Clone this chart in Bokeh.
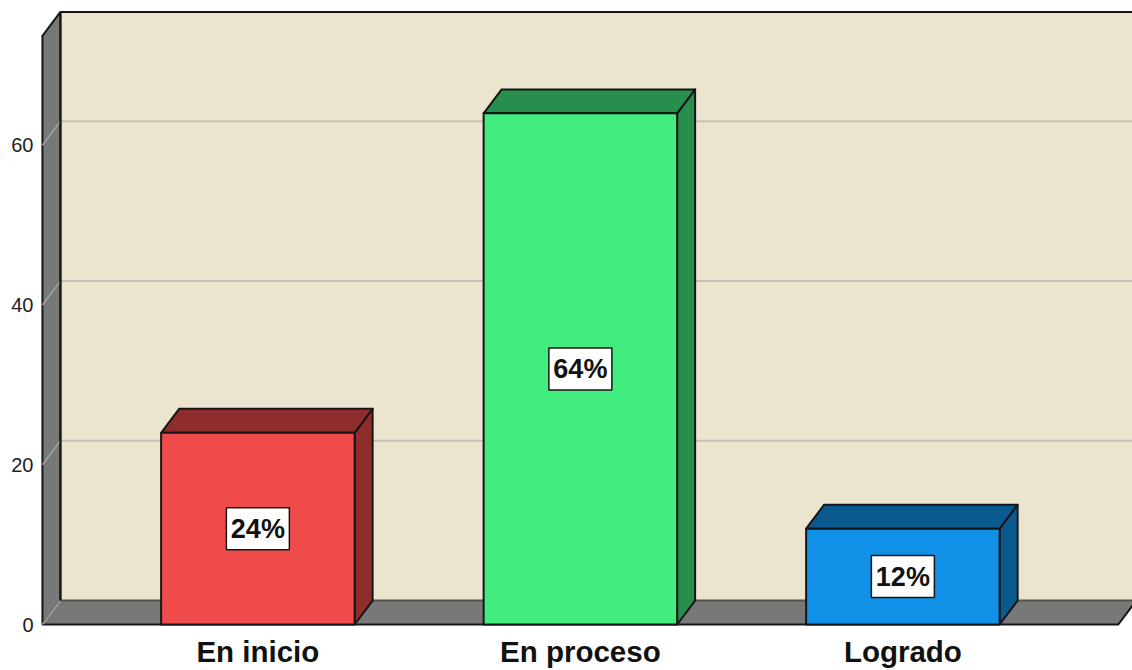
from bokeh.plotting import figure
from bokeh.models import ColumnDataSource, Range1d, FixedTicker
from bokeh.core.properties import value
from bokeh.embed import file_html
from bokeh.resources import INLINE

categories = ["En inicio", "En proceso", "Logrado"]
values = [24, 64, 12]
labels = ["24%", "64%", "12%"]
y_ticks = [0, 20, 40, 60]
face_colors = ["#EF4B4B", "#43EC7F", "#1190E8"]
dark_colors = ["#8F2D2D", "#278E4D", "#0A5A90"]

BAR_W = 0.6
DX = 0.0558
DY = 3.0
XL, XR = -0.668, 2.668
TOP = 76.7
OUT = "#161616"
WALL = "#EBE4CF"
SIDE = "#787878"
GRID = "#C6BFB5"

p = figure(width=1132, height=670, output_backend="svg", toolbar_location=None,
           x_range=Range1d(-0.674, 2.712), y_range=Range1d(-0.5, 76.88),
           min_border_left=40, min_border_right=0, min_border_top=10, min_border_bottom=42,
           background_fill_color="white", border_fill_color="white",
           outline_line_color=None)
p.grid.visible = False

ya = p.yaxis[0]
ya.ticker = FixedTicker(ticks=y_ticks)
ya.axis_line_color = None
ya.major_tick_line_color = None
ya.minor_tick_line_color = None
ya.major_tick_out = 0
ya.major_tick_in = 0
ya.major_label_standoff = 7
ya.major_label_text_font = "Liberation Sans"
ya.major_label_text_font_size = "20px"
ya.major_label_text_color = "#222222"
ya.major_label_orientation = "horizontal"

xa = p.xaxis[0]
xa.ticker = FixedTicker(ticks=list(range(len(categories))))
xa.major_label_overrides = {i: c for i, c in enumerate(categories)}
xa.axis_line_color = None
xa.major_tick_line_color = None
xa.minor_tick_line_color = None
xa.major_tick_out = 0
xa.major_tick_in = 0
xa.major_label_standoff = 6
xa.major_label_text_font = "Liberation Sans"
xa.major_label_text_font_style = "bold"
xa.major_label_text_font_size = "29.5px"
xa.major_label_text_color = "#111111"

# back wall
p.patch([XL + DX, 2.72, 2.72, XL + DX], [DY, DY, TOP, TOP], fill_color=WALL, line_color=None)
p.line([XL + DX, 2.72], [TOP, TOP], line_color=OUT, line_width=2)

for t in y_ticks[1:]:
    p.line([XL + DX, 2.72], [t + DY, t + DY], line_color=GRID, line_width=2)

# left wall
p.patch([XL, XL + DX, XL + DX, XL], [0, DY, TOP, TOP - DY], fill_color=SIDE,
        line_color=OUT, line_width=2, line_join="round")
# floor
p.patch([XL, XL + DX, XR + DX, XR], [0, DY, DY, 0], fill_color=SIDE, line_color=None)
p.line([XL + DX, XR + DX], [DY, DY], line_color="#55524C", line_width=2)
p.line([XL, XR, XR + DX], [0, 0, DY], line_color=OUT, line_width=2)

for t in y_ticks:
    p.line([XL, XL + DX], [t, t + DY], line_color="#A8A49C", line_width=1.5)
p.line([XL + DX, XL + DX], [DY, TOP], line_color=OUT, line_width=2)

for i, v in enumerate(values):
    l, r = i - BAR_W / 2, i + BAR_W / 2
    p.patch([r, r + DX, r + DX, r], [0, DY, v + DY, v], fill_color=dark_colors[i],
            line_color=OUT, line_width=2, line_join="round")
    p.patch([l, r, r + DX, l + DX], [v, v, v + DY, v + DY], fill_color=dark_colors[i],
            line_color=OUT, line_width=2, line_join="round")
    p.patch([l, r, r, l], [0, 0, v, v], fill_color=face_colors[i],
            line_color=OUT, line_width=2, line_join="round")

src = ColumnDataSource(dict(x=list(range(len(values))), y=[v / 2 for v in values], t=labels))
p.rect(x="x", y="y", width=63, height=42, width_units="screen", height_units="screen", source=src,
       fill_color="white", line_color=OUT, line_width=1.5)
p.text(x="x", y="y", text="t", source=src, text_align="center", text_baseline="middle",
       text_font=value("Liberation Sans"), text_font_style="bold", text_font_size="27px",
       text_color="#111111")

open("out.html", "w").write(file_html(p, INLINE))
